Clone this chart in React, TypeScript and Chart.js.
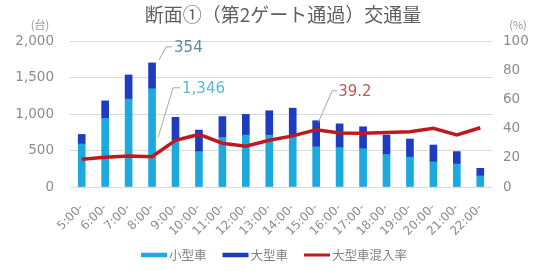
import React, { useEffect, useRef } from "react";
import { Chart, registerables } from "chart.js";

Chart.register(...registerables);

const TITLE = "断面①（第2ゲート通過）交通量";
const categories = [
  "5:00-", "6:00-", "7:00-", "8:00-", "9:00-", "10:00-", "11:00-", "12:00-", "13:00-",
  "14:00-", "15:00-", "16:00-", "17:00-", "18:00-", "19:00-", "20:00-", "21:00-", "22:00-",
];
const smallCars = [590, 940, 1205, 1346, 640, 485, 680, 710, 710, 690, 552, 540, 525, 445, 410, 345, 315, 152];
const largeCars = [130, 240, 330, 354, 315, 295, 285, 285, 335, 390, 356, 325, 300, 267, 247, 230, 170, 104];
const largeRatio = [19, 20.3, 21.2, 20.8, 32, 36, 30, 28, 32, 35, 39.2, 37, 36.8, 37.4, 37.9, 40.2, 35.6, 40.6];
const seriesNames = ["小型車", "大型車", "大型車混入率"];
const leftUnit = "(台)";
const rightUnit = "(%)";

const COL_SMALL = "#1ca9de";
const COL_LARGE = "#1d3cc0";
const COL_RATIO = "#be191e";
const TEXT_GRAY = "#8c8c8c";
const NUM_FONT = '"DejaVu Sans", sans-serif';
const JP_FONT = '"Noto Sans CJK JP", sans-serif';

const overlay = {
  id: "overlay",
  afterDatasetsDraw(chart: any) {
    const ctx = chart.ctx;
    ctx.save();
    ctx.lineWidth = 1;
    ctx.strokeStyle = "#a6a6a6";
    ctx.textBaseline = "middle";
    ctx.textAlign = "left";
    ctx.font = `15px ${NUM_FONT}`;

    // 354 label on large-car segment of 8:00
    const i8 = 3;
    const eL = chart.getDatasetMeta(1).data[i8];
    let ly = eL.y - 16;
    ctx.beginPath();
    ctx.moveTo(eL.x + 7, eL.y - 3);
    ctx.lineTo(eL.x + 14, ly);
    ctx.lineTo(eL.x + 20, ly);
    ctx.stroke();
    ctx.fillStyle = "#5a8aa8";
    ctx.fillText(String(largeCars[i8]), eL.x + 22, ly + 1);

    // 1,346 label on small-car segment of 8:00
    const eS = chart.getDatasetMeta(0).data[i8];
    ly = eS.y - 1;
    ctx.beginPath();
    ctx.moveTo(eS.x + 6, (eS.y + eS.base) / 2);
    ctx.lineTo(eS.x + 21, ly);
    ctx.lineTo(eS.x + 28, ly);
    ctx.stroke();
    ctx.fillStyle = "#5ab8da";
    ctx.fillText(smallCars[i8].toLocaleString("en-US"), eS.x + 30, ly + 1);

    // 39.2 label on ratio line at 15:00
    const i15 = 10;
    const eR = chart.getDatasetMeta(2).data[i15];
    ly = eR.y - 39;
    ctx.beginPath();
    ctx.moveTo(eR.x + 2, eR.y - 7);
    ctx.lineTo(eR.x + 16, ly);
    ctx.lineTo(eR.x + 21, ly);
    ctx.stroke();
    ctx.fillStyle = "#b65a57";
    ctx.fillText(String(largeRatio[i15]), eR.x + 22, ly + 1);
    ctx.restore();
  },
  afterDraw(chart: any) {
    const ctx = chart.ctx;
    const area = chart.chartArea;
    ctx.save();
    // title
    ctx.fillStyle = "#5f5f5f";
    ctx.textAlign = "center";
    ctx.textBaseline = "middle";
    ctx.font = `19px ${JP_FONT}`;
    ctx.fillText(TITLE, (area.left + area.right) / 2 + 2, 15);
    // units
    ctx.fillStyle = "#959595";
    ctx.font = `11px ${JP_FONT}`;
    ctx.fillText(leftUnit, 40, 25);
    ctx.fillText(rightUnit, 518, 25);

    // legend
    ctx.font = `12.5px ${JP_FONT}`;
    const boxW = 26;
    const gap = 2;
    const itemGap = 16;
    const widths = seriesNames.map((n) => boxW + gap + ctx.measureText(n).width);
    const total = widths.reduce((a, b) => a + b, 0) + itemGap * (seriesNames.length - 1);
    let x = 274 - total / 2;
    const y = 255;
    const cols = [COL_SMALL, COL_LARGE, COL_RATIO];
    const hs = [4.5, 4.5, 3];
    ctx.textAlign = "left";
    seriesNames.forEach((n, k) => {
      ctx.fillStyle = cols[k];
      ctx.fillRect(x, y - hs[k] / 2, boxW, hs[k]);
      ctx.fillStyle = "#808080";
      ctx.fillText(n, x + boxW + gap, y);
      x += widths[k] + itemGap;
    });
    ctx.restore();
  },
};

export default function App() {
  const ref = useRef<HTMLCanvasElement | null>(null);

  useEffect(() => {
    document.body.style.margin = "0";
    const canvas = ref.current;
    if (!canvas) return;
    const chart = new Chart(canvas, {
      type: "bar",
      data: {
        labels: categories,
        datasets: [
          {
            type: "bar",
            label: seriesNames[0],
            data: smallCars,
            backgroundColor: COL_SMALL,
            stack: "cars",
            yAxisID: "y",
            barThickness: 7,
            order: 2,
          },
          {
            type: "bar",
            label: seriesNames[1],
            data: largeCars,
            backgroundColor: COL_LARGE,
            stack: "cars",
            yAxisID: "y",
            barThickness: 7,
            order: 2,
          },
          {
            type: "line",
            label: seriesNames[2],
            data: largeRatio,
            borderColor: COL_RATIO,
            backgroundColor: COL_RATIO,
            borderWidth: 3.5,
            pointRadius: 0,
            tension: 0,
            yAxisID: "y1",
            order: 0,
          } as any,
        ],
      },
      options: {
        responsive: false,
        animation: false,
        layout: { padding: { top: 41, left: 0, right: 0, bottom: 0 } },
        plugins: {
          legend: { display: false },
          title: { display: false },
          tooltip: { enabled: false },
        },
        scales: {
          x: {
            stacked: true,
            grid: { display: false },
            border: { display: false },
            ticks: {
              color: TEXT_GRAY,
              font: { family: NUM_FONT, size: 12 },
              minRotation: 45,
              maxRotation: 45,
              autoSkip: false,
              padding: 6,
            },
            afterFit: (s: any) => {
              s.height = 84;
            },
          },
          y: {
            stacked: true,
            position: "left",
            min: 0,
            max: 2000,
            grid: { color: "#d9d9d9", drawTicks: false },
            border: { display: false },
            ticks: {
              stepSize: 500,
              color: TEXT_GRAY,
              font: { family: NUM_FONT, size: 13.5 },
              padding: 16,
              callback: (v: any) => Number(v).toLocaleString("en-US"),
            },
            afterFit: (s: any) => {
              s.width = 70;
            },
          },
          y1: {
            position: "right",
            min: 0,
            max: 100,
            grid: { display: false, drawTicks: false },
            border: { display: false },
            ticks: {
              stepSize: 20,
              color: TEXT_GRAY,
              font: { family: NUM_FONT, size: 13.5 },
              padding: 11,
            },
            afterFit: (s: any) => {
              s.width = 48;
            },
          },
        },
      },
      plugins: [overlay],
    });
    return () => chart.destroy();
  }, []);

  return (
    <div style={{ width: 540, height: 271, background: "#fff" }}>
      <canvas ref={ref} width={540} height={271} style={{ display: "block" }} />
    </div>
  );
}
